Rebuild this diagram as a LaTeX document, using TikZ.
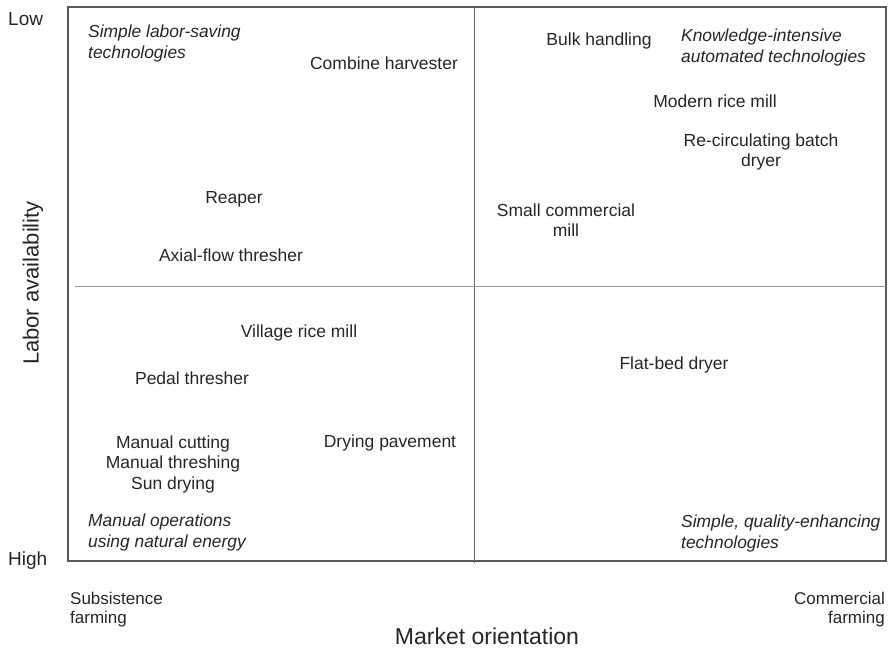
\documentclass[tikz,border=0pt]{standalone}
\usepackage{fontspec}
\setmainfont{Liberation Sans}
\begin{document}
\begin{tikzpicture}[x=1pt, y=-1pt,
    lbl/.style={text=black!85, font=\fontsize{17.5}{20.5}\selectfont, inner sep=0pt, align=center},
    ital/.style={lbl, font=\fontsize{17.4}{21}\selectfont\itshape, align=left},
    axis/.style={text=black!85, font=\fontsize{23}{25}\selectfont, inner sep=0pt}]
    \useasboundingbox (0,0) rectangle (889,648);
    % El marco y las dos líneas que separan los cuadrantes.
    \draw[black!65, line width=1.2pt] (68,7) rectangle (886,561);
    \draw[black!60, line width=1pt] (474,7) -- (474,563);
    \draw[black!40, line width=1pt] (75,286) -- (886,286);
    \node[axis, font=\fontsize{19}{21}\selectfont, anchor=west] (low) at (8,19) {Low};
    \node[axis, font=\fontsize{19}{21}\selectfont, anchor=west] (high) at (8,561) {High};
    \node[axis, font=\fontsize{22}{24}\selectfont, rotate=90] (laboraxis) at (33,283) {Labor availability};
    \node[axis] (marketaxis) at (487,636) {Market orientation};
    \node[lbl, font=\fontsize{17}{19}\selectfont, align=left, anchor=west] (subsist) at (70,610) {Subsistence\\farming};
    \node[lbl, font=\fontsize{17}{19}\selectfont, align=right, anchor=east] (commerc) at (885,610) {Commercial\\farming};
    \node[ital, anchor=west] (laborsaving) at (88,43) {Simple labor-saving\\technologies};
    \node[ital, anchor=west] (knowledge) at (681,47) {Knowledge-intensive\\automated technologies};
    \node[ital, anchor=west] (manualops) at (88,532) {Manual operations\\using natural energy};
    \node[ital, anchor=west] (quality) at (681,533) {Simple, quality-enhancing\\technologies};
    \node[lbl] (harvester) at (384,63) {Combine harvester};
    \node[lbl] (bulk) at (599,41) {Bulk handling};
    \node[lbl] (modernmill) at (715,101) {Modern rice mill};
    \node[lbl] (batchdryer) at (761,152) {Re-circulating batch\\dryer};
    \node[lbl] (reaper) at (234,199) {Reaper};
    \node[lbl] (smallmill) at (566,220) {Small commercial\\mill};
    \node[lbl] (axial) at (231,255) {Axial-flow thresher};
    \node[lbl] (village) at (299,333) {Village rice mill};
    \node[lbl] (pedal) at (192,378) {Pedal thresher};
    \node[lbl] (flatbed) at (674,365) {Flat-bed dryer};
    \node[lbl] (manual) at (173,464) {Manual cutting\\Manual threshing\\Sun drying};
    \node[lbl] (pavement) at (390,443) {Drying pavement};
\end{tikzpicture}
\end{document}
